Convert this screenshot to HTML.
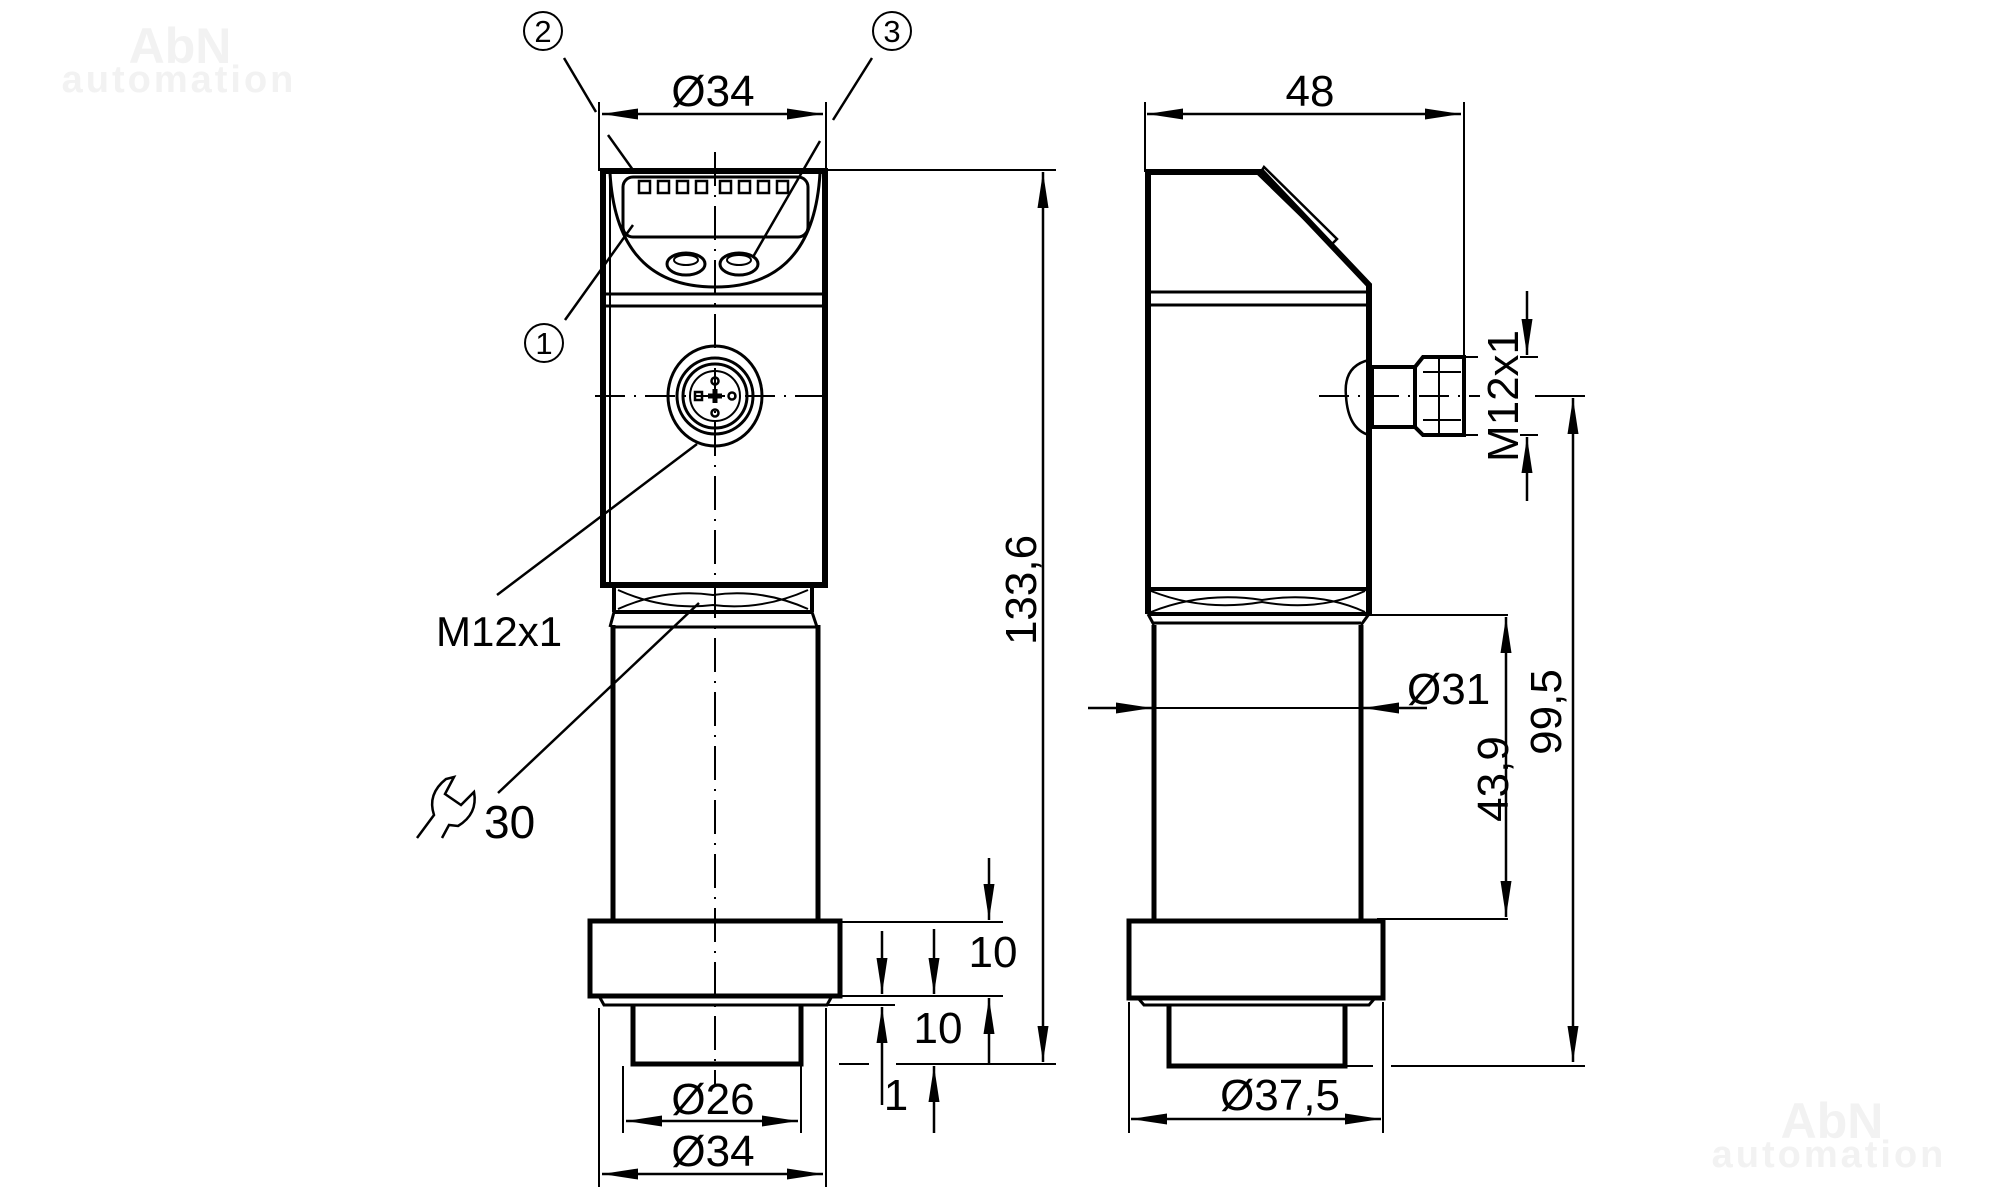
<!DOCTYPE html>
<html><head><meta charset="utf-8"><style>
html,body{margin:0;padding:0;background:#fff;}
svg{display:block;}
text{font-family:"Liberation Sans",sans-serif;fill:#000;}
.wm{fill:#f2f2f2;font-weight:bold;}
</style></head><body>
<svg width="2000" height="1189" viewBox="0 0 2000 1189" xmlns="http://www.w3.org/2000/svg">
<defs>
<marker id="a" viewBox="0 0 36 11" refX="36" refY="5.5" markerWidth="36" markerHeight="11" markerUnits="userSpaceOnUse" orient="auto"><path d="M0,0 L36,5.5 L0,11 Z" fill="#000"/></marker>
</defs>
<text class="wm" x="180" y="63" font-size="50" text-anchor="middle">AbN</text>
<text class="wm" x="179" y="92" font-size="38" text-anchor="middle" letter-spacing="3">automation</text>
<text class="wm" x="1832" y="1138" font-size="50" text-anchor="middle">AbN</text>
<text class="wm" x="1829" y="1167" font-size="38" text-anchor="middle" letter-spacing="3">automation</text>

<g stroke="#000" fill="none" stroke-width="2.5">
<!-- LEFT VIEW -->
<rect x="603" y="171" width="222" height="414" stroke-width="6"/>
<line x1="610" y1="173" x2="610" y2="583" stroke-width="2"/>
<line x1="606" y1="294" x2="822" y2="294" stroke-width="3"/>
<line x1="606" y1="306" x2="822" y2="306" stroke-width="3"/>
<path d="M610,173 C615,260 660,287 715,287 C770,287 815,260 820,173" stroke-width="3"/>
<rect x="623" y="177" width="185" height="60" rx="10" stroke-width="3"/>
<g stroke-width="2.5">
<rect x="639" y="181" width="11" height="12"/><rect x="658" y="181" width="11" height="12"/><rect x="677" y="181" width="11" height="12"/><rect x="696" y="181" width="11" height="12"/><rect x="720" y="181" width="11" height="12"/><rect x="739" y="181" width="11" height="12"/><rect x="758" y="181" width="11" height="12"/><rect x="777" y="181" width="11" height="12"/>
</g>
<ellipse cx="686" cy="264" rx="19" ry="11" stroke-width="3"/><ellipse cx="686" cy="260" rx="12" ry="5" stroke-width="2"/>
<ellipse cx="739" cy="264" rx="19" ry="11" stroke-width="3"/><ellipse cx="739" cy="260" rx="12" ry="5" stroke-width="2"/>
<ellipse cx="715" cy="396" rx="47" ry="50" stroke-width="3"/>
<circle cx="715" cy="396" r="38" stroke-width="3"/>
<circle cx="715" cy="396" r="32" stroke-width="3"/>
<circle cx="715" cy="396" r="25" stroke-width="2"/>
<circle cx="715" cy="381" r="3.5"/><circle cx="715" cy="413" r="3.5"/><circle cx="732" cy="396" r="3.5"/><rect x="695" y="392" width="7" height="8"/>
<path d="M708,396 H722 M715,389 V403" stroke-width="5"/>
<line x1="715" y1="152" x2="715" y2="1084" stroke-width="2" stroke-dasharray="34,9,2,9"/>
<line x1="595" y1="396" x2="834" y2="396" stroke-width="2" stroke-dasharray="30,9,2,9"/>
<path d="M614,586 V612 M812,586 V612 M614,612 H812" stroke-width="4"/>
<path d="M618,590 Q665,611 713,605 Q761,611 808,590 M618,609 Q665,588 713,595 Q761,588 808,609" stroke-width="2"/>
<path d="M614,612 L610,627 M812,612 L817,627 M612,627 H819" stroke-width="3"/>
<path d="M613,625 V920 M818,625 V920" stroke-width="5"/>
<rect x="590" y="921" width="250" height="75" stroke-width="5"/>
<path d="M599,996 L604,1005 H827 L832,996" stroke-width="3"/>
<path d="M633,1005 V1064 H801 V1005" stroke-width="5"/>
<line x1="564" y1="58" x2="596" y2="112"/>
<line x1="608" y1="135" x2="633" y2="170"/>
<line x1="872" y1="58" x2="833" y2="120"/>
<line x1="820" y1="141" x2="753" y2="257"/>
<line x1="565" y1="320" x2="633" y2="225"/>
<line x1="697" y1="444" x2="497" y2="595"/>
<line x1="699" y1="603" x2="498" y2="793"/>
<circle cx="543" cy="31" r="19" stroke-width="2"/>
<circle cx="892" cy="31" r="19" stroke-width="2"/>
<circle cx="544" cy="343" r="19" stroke-width="2"/>
<line x1="599" y1="102" x2="599" y2="171" stroke-width="2"/>
<line x1="826" y1="102" x2="826" y2="171" stroke-width="2"/>
<line x1="713" y1="114" x2="602" y2="114" marker-end="url(#a)"/>
<line x1="713" y1="114" x2="823" y2="114" marker-end="url(#a)"/>
<line x1="825" y1="170" x2="1056" y2="170" stroke-width="2"/>
<line x1="1043" y1="600" x2="1043" y2="172" marker-end="url(#a)"/>
<line x1="1043" y1="600" x2="1043" y2="1062" marker-end="url(#a)"/>
<line x1="841" y1="922" x2="1003" y2="922" stroke-width="2"/>
<line x1="841" y1="996" x2="1003" y2="996" stroke-width="2"/>
<line x1="828" y1="1005" x2="895" y2="1005" stroke-width="2"/>
<path d="M839,1064 H869 M896,1064 H1056" stroke-width="2"/>
<line x1="989" y1="858" x2="989" y2="920" marker-end="url(#a)"/>
<line x1="989" y1="1064" x2="989" y2="998" marker-end="url(#a)"/>
<line x1="934" y1="929" x2="934" y2="994" marker-end="url(#a)"/>
<line x1="934" y1="1133" x2="934" y2="1066" marker-end="url(#a)"/>
<line x1="882" y1="931" x2="882" y2="994" marker-end="url(#a)"/>
<line x1="882" y1="1105" x2="882" y2="1007" marker-end="url(#a)"/>
<line x1="623" y1="1066" x2="623" y2="1133" stroke-width="2"/>
<line x1="801" y1="1066" x2="801" y2="1133" stroke-width="2"/>
<line x1="713" y1="1121" x2="626" y2="1121" marker-end="url(#a)"/>
<line x1="713" y1="1121" x2="798" y2="1121" marker-end="url(#a)"/>
<line x1="599" y1="1008" x2="599" y2="1187" stroke-width="2"/>
<line x1="826" y1="1008" x2="826" y2="1187" stroke-width="2"/>
<line x1="713" y1="1174" x2="602" y2="1174" marker-end="url(#a)"/>
<line x1="713" y1="1174" x2="823" y2="1174" marker-end="url(#a)"/>
<path d="M417,838 L434,815 Q427,794 446,779 L454,777 L445,794 L461,805 L474,792 Q478,814 458,826 L449,825 L442,838" stroke-width="2.5"/>

<!-- RIGHT VIEW -->
<path d="M1148,614 V172 H1262 L1369,285 V614" stroke-width="6"/>
<line x1="1151" y1="292" x2="1367" y2="292" stroke-width="3"/>
<line x1="1151" y1="305" x2="1367" y2="305" stroke-width="3"/>
<path d="M1259,175 L1331,245 L1337,239 L1264,167 Z" stroke-width="2.5"/>
<path d="M1148,589 H1369 M1148,614 H1369" stroke-width="4"/>
<path d="M1151,591 Q1204,612 1262,602 Q1319,612 1365,591 M1151,612 Q1204,591 1262,600 Q1319,591 1365,612" stroke-width="2"/>
<path d="M1148,614 L1154,625 M1369,614 L1361,625 M1154,623 H1361" stroke-width="3"/>
<path d="M1154,625 V920 M1361,625 V920" stroke-width="5"/>
<rect x="1129" y="921" width="254" height="77" stroke-width="5"/>
<path d="M1138,998 L1144,1005 H1369 L1375,998" stroke-width="3"/>
<path d="M1169,1005 V1066 H1345 V1005" stroke-width="5"/>
<path d="M1369,360 Q1343,366 1346,396 Q1348,429 1369,435" stroke-width="2.5"/>
<rect x="1372" y="367" width="43" height="60" stroke-width="4"/>
<path d="M1415,367 L1423,357 H1464 V435 H1423 L1415,427 Z" stroke-width="4"/>
<path d="M1423,372 H1461 M1423,420 H1461 M1439,358 V434" stroke-width="2"/>
<line x1="1319" y1="396" x2="1479" y2="396" stroke-width="2" stroke-dasharray="30,9,2,9"/>
<line x1="1145" y1="102" x2="1145" y2="172" stroke-width="2"/>
<line x1="1464" y1="102" x2="1464" y2="357" stroke-width="2"/>
<line x1="1308" y1="114" x2="1147" y2="114" marker-end="url(#a)"/>
<line x1="1308" y1="114" x2="1461" y2="114" marker-end="url(#a)"/>
<line x1="1464" y1="357" x2="1478" y2="357" stroke-width="2"/>
<line x1="1520" y1="357" x2="1538" y2="357" stroke-width="2"/>
<line x1="1464" y1="435" x2="1478" y2="435" stroke-width="2"/>
<line x1="1520" y1="435" x2="1538" y2="435" stroke-width="2"/>
<line x1="1527" y1="291" x2="1527" y2="355" marker-end="url(#a)"/>
<line x1="1527" y1="501" x2="1527" y2="437" marker-end="url(#a)"/>
<line x1="1478" y1="396" x2="1480" y2="396" stroke-width="2"/>
<line x1="1535" y1="396" x2="1585" y2="396" stroke-width="2"/>
<line x1="1573" y1="730" x2="1573" y2="398" marker-end="url(#a)"/>
<line x1="1573" y1="730" x2="1573" y2="1062" marker-end="url(#a)"/>
<line x1="1369" y1="615" x2="1508" y2="615" stroke-width="2"/>
<line x1="1377" y1="919" x2="1508" y2="919" stroke-width="2"/>
<line x1="1506" y1="770" x2="1506" y2="617" marker-end="url(#a)"/>
<line x1="1506" y1="770" x2="1506" y2="917" marker-end="url(#a)"/>
<line x1="1088" y1="708" x2="1152" y2="708" marker-end="url(#a)"/>
<line x1="1427" y1="708" x2="1363" y2="708" marker-end="url(#a)"/>
<line x1="1154" y1="708" x2="1361" y2="708" stroke-width="2"/>
<path d="M1345,1066 H1373 M1391,1066 H1585" stroke-width="2"/>
<line x1="1129" y1="1002" x2="1129" y2="1133" stroke-width="2"/>
<line x1="1383" y1="1002" x2="1383" y2="1133" stroke-width="2"/>
<line x1="1256" y1="1119" x2="1131" y2="1119" marker-end="url(#a)"/>
<line x1="1256" y1="1119" x2="1381" y2="1119" marker-end="url(#a)"/>
</g>

<g font-size="44">
<text x="713" y="106" text-anchor="middle">Ø34</text>
<text x="543" y="42" font-size="31" text-anchor="middle">2</text>
<text x="892" y="42" font-size="31" text-anchor="middle">3</text>
<text x="544" y="354" font-size="31" text-anchor="middle">1</text>
<text x="436" y="646" font-size="42">M12x1</text>
<text x="484" y="838" font-size="46">30</text>
<text x="0" y="0" transform="translate(1036,590) rotate(-90)" text-anchor="middle">133,6</text>
<text x="993" y="967" text-anchor="middle">10</text>
<text x="938" y="1043" text-anchor="middle">10</text>
<text x="896" y="1110" text-anchor="middle">1</text>
<text x="713" y="1114" text-anchor="middle">Ø26</text>
<text x="713" y="1166" text-anchor="middle">Ø34</text>
<text x="1310" y="106" text-anchor="middle">48</text>
<text x="0" y="0" transform="translate(1518,396) rotate(-90)" text-anchor="middle">M12x1</text>
<text x="0" y="0" transform="translate(1561,712) rotate(-90)" text-anchor="middle">99,5</text>
<text x="0" y="0" transform="translate(1508,779) rotate(-90)" text-anchor="middle">43,9</text>
<text x="1407" y="704">Ø31</text>
<text x="1280" y="1110" text-anchor="middle">Ø37,5</text>
</g>
</svg>
</body></html>
